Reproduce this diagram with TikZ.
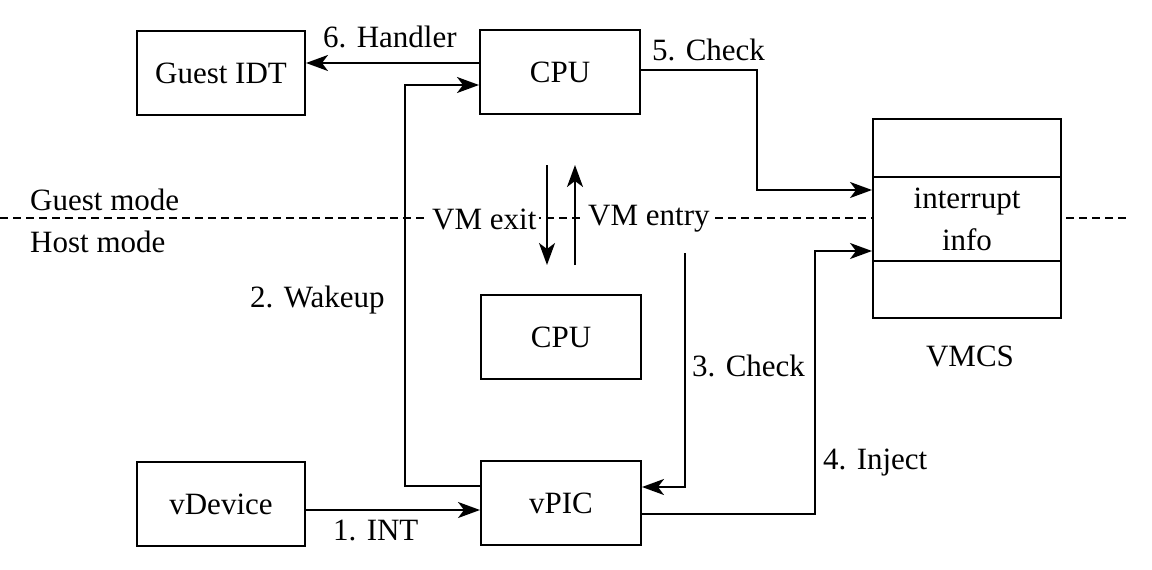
\documentclass[tikz,border=0pt]{standalone}
\usepackage{fontspec}
\setmainfont{Liberation Serif}
\usetikzlibrary{arrows.meta}
\begin{document}
\begin{tikzpicture}[x=1pt,y=-1pt,
  every node/.style={font=\fontsize{31}{35}\selectfont, inner sep=0pt},
  box/.style={draw, line width=2pt, fill=white, minimum width=160pt, minimum height=84pt},
  wbox/.style={box, minimum width=168pt},
  arr/.style={line width=2pt, -{Stealth[length=22pt,width=16pt,inset=6pt]}},
  lbl/.style={anchor=west},
  dsh/.style={line width=1.6pt, dash pattern=on 8pt off 5pt}]
\useasboundingbox (0,0) rectangle (1152,570);
% mode separator
\draw[dsh] (0,218) -- (1130,218);
\node[lbl] (gm) at (30,200) {Guest mode};
\node[lbl] (hm) at (30,242) {Host mode};
% boxes
\node[wbox] (idt) at (221,73) {Guest IDT};
\node[box] (cpu1) at (560,72) {CPU};
\node[box] (cpu2) at (561,337) {CPU};
\node[wbox] (vdev) at (221,504) {vDevice};
\node[box] (vpic) at (561,503) {vPIC};
% VMCS
\node[draw, line width=2pt, fill=white, minimum width=188pt, minimum height=199pt] (vmcs) at (967,218.5) {};
\node[draw, line width=2pt, minimum width=188pt, minimum height=84pt, align=center, font=\fontsize{31}{42}\selectfont] (info) at (967,219) {interrupt\\info};
\node (vmcslbl) at (970,356) {VMCS};
% VM exit / entry
\node[lbl, fill=white, inner xsep=3pt, inner ysep=3pt] (exit) at (429,219) {VM exit};
\node[lbl, fill=white, inner xsep=3pt, inner ysep=3pt] (entry) at (585,219) {VM entry};
\coordinate (ex1) at (547,165);
\coordinate (ex2) at (547,265);
\coordinate (en1) at (575,265);
\coordinate (en2) at (575,165);
\draw[arr] (ex1) -- (ex2);
\draw[arr] (en1) -- (en2);
% 6. Handler
\draw[arr] (cpu1.west |- 0,63) -- (idt.east |- 0,63);
\node[lbl] (l6) at (323,37) {6. Handler};
% 2. Wakeup
\draw[arr] (vpic.west |- 0,486) -- (405,486) -- (405,85) -- (cpu1.west |- 0,85);
\node[lbl] (l2) at (250,300) {2. Wakeup};
% 5. Check
\draw[arr] (cpu1.east |- 0,70) -- (757,70) -- (757,190) -- (info.west |- 0,190);
\node[lbl] (l5) at (652,50) {5. Check};
% 3. Check
\coordinate (c3) at (685,253);
\draw[arr] (c3) -- (685,487) -- (vpic.east |- 0,487);
\node[lbl] (l3) at (692,366) {3. Check};
% 4. Inject
\draw[arr] (vpic.east |- 0,514) -- (815,514) -- (815,251) -- (info.west |- 0,251);
\node[lbl] (l4) at (823,463) {4. Inject};
% 1. INT
\draw[arr] (vdev.east |- 0,510) -- (vpic.west |- 0,510);
\node[lbl] (l1) at (333,530) {1. INT};
\end{tikzpicture}
\end{document}
